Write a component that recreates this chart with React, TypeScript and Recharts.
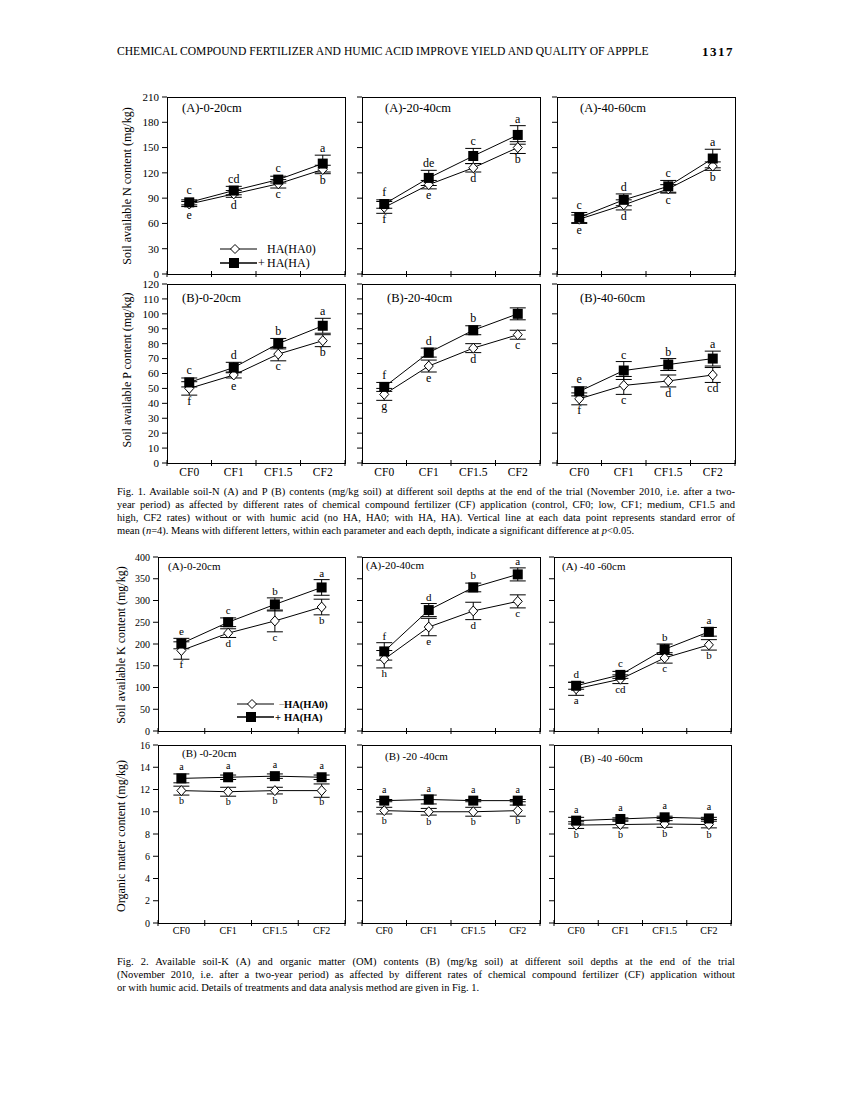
import React from "react";
import { LineChart, Line, XAxis, YAxis, ErrorBar } from "recharts";

const FONT = '"Liberation Serif", "Times New Roman", serif';
const categories = ["CF0", "CF1", "CF1.5", "CF2"];

// Fig. 1 (A) soil available N (mg/kg)
const n020Ha0 = [83, 95, 107, 124];
const n020Ha0Err = [3, 4, 5, 5];
const n020Ha0Sig = ["e", "d", "c", "b"];
const n020Ha = [85, 99, 112, 131];
const n020HaErr = [3, 5, 4, 10];
const n020HaSig = ["c", "cd", "c", "a"];

const n2040Ha0 = [79, 106, 126, 150];
const n2040Ha0Err = [7, 5, 5, 7];
const n2040Ha0Sig = ["f", "e", "d", "b"];
const n2040Ha = [83, 114, 140, 165];
const n2040HaErr = [5, 9, 9, 11];
const n2040HaSig = ["f", "de", "c", "a"];

const n4060Ha0 = [65, 82, 101, 128];
const n4060Ha0Err = [5, 6, 5, 5];
const n4060Ha0Sig = ["e", "d", "c", "b"];
const n4060Ha = [67, 88, 104, 137];
const n4060HaErr = [6, 7, 7, 11];
const n4060HaSig = ["c", "d", "c", "a"];

// Fig. 1 (B) soil available P (mg/kg)
const p020Ha0 = [50, 59, 73, 82];
const p020Ha0Err = [4.5, 2, 4.5, 4];
const p020Ha0Sig = ["f", "e", "c", "b"];
const p020Ha = [54, 64, 80, 92];
const p020HaErr = [3, 3.5, 3.5, 5];
const p020HaSig = ["c", "d", "b", "a"];

const p2040Ha0 = [46, 65, 77, 86];
const p2040Ha0Err = [4, 4, 3, 3];
const p2040Ha0Sig = ["g", "e", "d", "c"];
const p2040Ha = [51, 74, 89, 100];
const p2040HaErr = [3, 3, 3, 4];
const p2040HaSig = ["f", "d", "b", ""];

const p4060Ha0 = [43, 52, 55, 59];
const p4060Ha0Err = [4, 6, 4, 5];
const p4060Ha0Sig = ["f", "c", "d", "cd"];
const p4060Ha = [48, 62, 66, 70];
const p4060HaErr = [3, 6, 4, 5];
const p4060HaSig = ["e", "c", "b", "a"];

// Fig. 2 (A) soil available K (mg/kg)
const k020Ha0 = [185, 225, 253, 285];
const k020Ha0Err = [20, 10, 25, 18];
const k020Ha0Sig = ["f", "d", "c", "b"];
const k020Ha = [201, 250, 291, 330];
const k020HaErr = [12, 10, 15, 18];
const k020HaSig = ["e", "c", "b", "a"];

const k2040Ha0 = [165, 239, 276, 298];
const k2040Ha0Err = [20, 20, 20, 15];
const k2040Ha0Sig = ["h", "e", "d", "c"];
const k2040Ha = [183, 278, 330, 360];
const k2040HaErr = [20, 15, 10, 15];
const k2040HaSig = ["f", "d", "b", "a"];

const k4060Ha0 = [97, 119, 168, 198];
const k4060Ha0Err = [15, 10, 12, 12];
const k4060Ha0Sig = ["a", "cd", "c", "b"];
const k4060Ha = [104, 129, 188, 228];
const k4060HaErr = [8, 8, 12, 10];
const k4060HaSig = ["d", "c", "b", "a"];

// Fig. 2 (B) organic matter (mg/kg)
const om020Ha0 = [11.9, 11.8, 11.9, 11.9];
const om020Ha0Err = [0.4, 0.4, 0.3, 0.6];
const om020Ha0Sig = ["b", "b", "b", "b"];
const om020Ha = [13.0, 13.1, 13.2, 13.1];
const om020HaErr = [0.4, 0.2, 0.2, 0.2];
const om020HaSig = ["a", "a", "a", "a"];

const om2040Ha0 = [10.1, 10.0, 10.0, 10.1];
const om2040Ha0Err = [0.3, 0.3, 0.4, 0.5];
const om2040Ha0Sig = ["b", "b", "b", "b"];
const om2040Ha = [11.0, 11.1, 11.0, 11.0];
const om2040HaErr = [0.1, 0.4, 0.1, 0.1];
const om2040HaSig = ["a", "a", "a", "a"];

const om4060Ha0 = [8.8, 8.85, 8.9, 8.85];
const om4060Ha0Err = [0.3, 0.3, 0.3, 0.3];
const om4060Ha0Sig = ["b", "b", "b", "b"];
const om4060Ha = [9.2, 9.35, 9.5, 9.4];
const om4060HaErr = [0.3, 0.1, 0.1, 0.1];
const om4060HaSig = ["a", "a", "a", "a"];

const range = (max: number, step: number) => {
  const out: number[] = [];
  for (let v = 0; v <= max + 1e-9; v += step) out.push(+v.toFixed(4));
  return out;
};

const YW = 45;
const MT = 10;
const MR = 6;
const XH = 26;

type PanelProps = {
  title: string;
  titleDx: number;
  titleDy: number;
  left: number;
  top: number;
  w: number;
  h: number;
  ymax: number;
  step: number;
  showY: boolean;
  showX: boolean;
  ha0: number[];
  ha0Err: number[];
  ha0Sig: string[];
  ha: number[];
  haErr: number[];
  haSig: string[];
  fs: { y: number; x: number; title: number; sig: number };
};

function Panel(props: PanelProps) {
  const { left, top, w, h, ymax, step, showY, showX, fs } = props;
  const data = categories.map((c, i) => ({
    x: i + 0.5,
    cat: c,
    ha0: props.ha0[i],
    ha0Err: props.ha0Err[i],
    ha0Sig: props.ha0Sig[i],
    ha: props.ha[i],
    haErr: props.haErr[i],
    haSig: props.haSig[i],
  }));
  const ppu = h / ymax;

  const squareDot = (p: any) => {
    const { cx, cy, payload, index } = p;
    const off = Math.max(payload.haErr * ppu, 5) + 3;
    return (
      <g key={`sq${index}`}>
        <rect x={cx - 5} y={cy - 5} width={10} height={10} fill="#000" />
        <text x={cx} y={cy - off} textAnchor="middle" fontSize={fs.sig} fontFamily={FONT} fill="#000">
          {payload.haSig}
        </text>
      </g>
    );
  };

  const diamondDot = (p: any) => {
    const { cx, cy, payload, index } = p;
    const off = Math.max(payload.ha0Err * ppu, 5) + 1 + fs.sig * 0.72;
    return (
      <g key={`dm${index}`}>
        <path
          d={`M${cx},${cy - 5}L${cx + 4.5},${cy}L${cx},${cy + 5}L${cx - 4.5},${cy}Z`}
          fill="#fff"
          stroke="#000"
          strokeWidth={1}
        />
        <text x={cx} y={cy + off} textAnchor="middle" fontSize={fs.sig} fontFamily={FONT} fill="#000">
          {payload.ha0Sig}
        </text>
      </g>
    );
  };

  const xTick = (p: any) => {
    const { x, y, payload } = p;
    const v = payload.value;
    if (Number.isInteger(v)) {
      return <line x1={x} x2={x} y1={y - 3} y2={y + 3} stroke="#000" strokeWidth={1} />;
    }
    if (!showX) return <g />;
    return (
      <text x={x} y={y + fs.x + 1} textAnchor="middle" fontSize={fs.x} fontFamily={FONT} fill="#000">
        {categories[Math.round(v - 0.5)]}
      </text>
    );
  };

  return (
    <>
      <div style={{ position: "absolute", left: left - YW, top: top - MT }}>
        <LineChart
          width={w + YW + MR}
          height={h + MT + XH}
          data={data}
          margin={{ top: MT, right: MR, left: 0, bottom: 0 }}
        >
          <XAxis
            type="number"
            dataKey="x"
            domain={[0, 4]}
            ticks={[0, 0.5, 1, 1.5, 2, 2.5, 3, 3.5, 4]}
            interval={0}
            height={XH}
            axisLine={false}
            tickLine={false}
            tickSize={0}
            tickMargin={0}
            tick={xTick}
          />
          <YAxis
            type="number"
            domain={[0, ymax]}
            ticks={range(ymax, step)}
            interval={0}
            width={YW}
            axisLine={false}
            tickSize={5}
            tickMargin={3}
            tickLine={{ stroke: "#000" }}
            tick={{ fontSize: fs.y, fontFamily: FONT, fill: "#000" }}
            tickFormatter={(v: number) => (showY ? String(v) : "")}
          />
          <Line
            dataKey="ha0"
            stroke="#000"
            strokeWidth={1}
            dot={diamondDot}
            activeDot={false}
            isAnimationActive={false}
          >
            <ErrorBar dataKey="ha0Err" width={8} stroke="#000" strokeWidth={1} direction="y" />
          </Line>
          <Line
            dataKey="ha"
            stroke="#000"
            strokeWidth={1}
            dot={squareDot}
            activeDot={false}
            isAnimationActive={false}
          >
            <ErrorBar dataKey="haErr" width={8} stroke="#000" strokeWidth={1} direction="y" />
          </Line>
        </LineChart>
      </div>
      <div
        style={{
          position: "absolute",
          left,
          top,
          width: w + 1,
          height: h + 1,
          border: "1px solid #000",
          boxSizing: "border-box",
          pointerEvents: "none",
        }}
      />
      <div
        style={{
          position: "absolute",
          left: left + props.titleDx,
          top: top + props.titleDy,
          fontFamily: FONT,
          fontSize: fs.title,
          lineHeight: 1,
          whiteSpace: "nowrap",
        }}
      >
        {props.title}
      </div>
    </>
  );
}

const Legend = ({ left, top, fs, bold, gap, minus }: any) => {
  const text = { fontFamily: FONT, fontSize: fs, fontWeight: bold ? "bold" : "normal" } as const;
  return (
    <svg style={{ position: "absolute", left, top }} width={130} height={gap + 14}>
      <line x1={0} x2={37} y1={6} y2={6} stroke="#000" />
      <path d="M15,1.5L19.5,6L15,10.5L10.5,6Z" fill="#fff" stroke="#000" />
      {minus && (
        <text x={42} y={10} {...text} fill="#999">
          −
        </text>
      )}
      <text x={47} y={10} {...text}>
        HA(HA0)
      </text>
      <line x1={0} x2={37} y1={6 + gap} y2={6 + gap} stroke="#000" strokeWidth={1.5} />
      <rect x={9} y={1 + gap} width={10} height={10} fill="#000" />
      <text x={38} y={10 + gap} {...text}>
        +
      </text>
      <text x={47} y={10 + gap} {...text}>
        HA(HA)
      </text>
    </svg>
  );
};

const RotLabel = ({ x, y, text, fs, bold }: any) => (
  <div
    style={{
      position: "absolute",
      left: x,
      top: y,
      transform: "translate(-50%, -50%) rotate(-90deg)",
      fontFamily: FONT,
      fontSize: fs,
      fontWeight: bold ? "bold" : "normal",
      whiteSpace: "nowrap",
      lineHeight: 1,
    }}
  >
    {text}
  </div>
);

const CapLine = ({ top, last, children }: any) => (
  <div
    style={{
      position: "absolute",
      left: 117,
      top,
      width: 618,
      fontFamily: FONT,
      fontSize: 10.5,
      lineHeight: 1,
      whiteSpace: "nowrap",
      textAlign: "justify",
      textAlignLast: last ? "left" : "justify",
    }}
  >
    {children}
  </div>
);

export default function App() {
  const f1 = { y: 11, x: 11.5, title: 12.5, sig: 12 };
  const f2 = { y: 10, x: 10, title: 11, sig: 11 };
  const f2b = { y: 10, x: 10, title: 11, sig: 10 };
  const c1 = [
    [167, 178],
    [362, 178],
    [557, 178],
  ];
  const c2 = [
    [158, 187],
    [362, 178],
    [554, 177],
  ];
  return (
    <div style={{ position: "absolute", left: 0, top: 0, width: 850, height: 1100, background: "#fff" }}>
      <div
        style={{
          position: "absolute",
          left: 117,
          top: 46,
          fontFamily: FONT,
          fontSize: 11.6,
          lineHeight: 1,
          whiteSpace: "nowrap",
        }}
      >
        CHEMICAL COMPOUND FERTILIZER AND HUMIC ACID IMPROVE YIELD AND QUALITY OF APPPLE
      </div>
      <div
        style={{
          position: "absolute",
          left: 702,
          top: 45,
          fontFamily: FONT,
          fontSize: 13,
          fontWeight: "bold",
          letterSpacing: 1.5,
          lineHeight: 1,
        }}
      >
        1317
      </div>

      {/* Fig. 1 */}
      <RotLabel x={127} y={186} text="Soil available N content (mg/kg)" fs={12} />
      <RotLabel x={127} y={370} text="Soil available P content (mg/kg)" fs={12} />

      <Panel title="(A)-0-20cm" titleDx={15} titleDy={5} left={c1[0][0]} top={97} w={c1[0][1]} h={177}
        ymax={210} step={30} showY showX={false}
        ha0={n020Ha0} ha0Err={n020Ha0Err} ha0Sig={n020Ha0Sig} ha={n020Ha} haErr={n020HaErr} haSig={n020HaSig} fs={f1} />
      <Panel title="(A)-20-40cm" titleDx={23} titleDy={5} left={c1[1][0]} top={97} w={c1[1][1]} h={177}
        ymax={210} step={30} showY={false} showX={false}
        ha0={n2040Ha0} ha0Err={n2040Ha0Err} ha0Sig={n2040Ha0Sig} ha={n2040Ha} haErr={n2040HaErr} haSig={n2040HaSig} fs={f1} />
      <Panel title="(A)-40-60cm" titleDx={23} titleDy={5} left={c1[2][0]} top={97} w={c1[2][1]} h={177}
        ymax={210} step={30} showY={false} showX={false}
        ha0={n4060Ha0} ha0Err={n4060Ha0Err} ha0Sig={n4060Ha0Sig} ha={n4060Ha} haErr={n4060HaErr} haSig={n4060HaSig} fs={f1} />

      <Panel title="(B)-0-20cm" titleDx={15} titleDy={8} left={c1[0][0]} top={284} w={c1[0][1]} h={179}
        ymax={120} step={10} showY showX
        ha0={p020Ha0} ha0Err={p020Ha0Err} ha0Sig={p020Ha0Sig} ha={p020Ha} haErr={p020HaErr} haSig={p020HaSig} fs={f1} />
      <Panel title="(B)-20-40cm" titleDx={25} titleDy={8} left={c1[1][0]} top={284} w={c1[1][1]} h={179}
        ymax={120} step={10} showY={false} showX
        ha0={p2040Ha0} ha0Err={p2040Ha0Err} ha0Sig={p2040Ha0Sig} ha={p2040Ha} haErr={p2040HaErr} haSig={p2040HaSig} fs={f1} />
      <Panel title="(B)-40-60cm" titleDx={23} titleDy={8} left={c1[2][0]} top={284} w={c1[2][1]} h={179}
        ymax={120} step={20} showY={false} showX
        ha0={p4060Ha0} ha0Err={p4060Ha0Err} ha0Sig={p4060Ha0Sig} ha={p4060Ha} haErr={p4060HaErr} haSig={p4060HaSig} fs={f1} />

      <Legend left={220} top={243} fs={12} gap={14} />

      <CapLine top={487}>
        Fig. 1. Available soil-N (A) and P (B) contents (mg/kg soil) at different soil depths at the end of the trial (November 2010, i.e. after a two-
      </CapLine>
      <CapLine top={500}>
        year period) as affected by different rates of chemical compound fertilizer (CF) application (control, CF0; low, CF1; medium, CF1.5 and
      </CapLine>
      <CapLine top={513}>
        high, CF2 rates) without or with humic acid (no HA, HA0; with HA, HA). Vertical line at each data point represents standard error of
      </CapLine>
      <CapLine top={526} last>
        mean (<i>n</i>=4). Means with different letters, within each parameter and each depth, indicate a significant difference at <i>p</i>&lt;0.05.
      </CapLine>

      {/* Fig. 2 */}
      <RotLabel x={121} y={645} text="Soil available K content (mg/kg)" fs={12} />
      <RotLabel x={121} y={836} text="Organic matter content (mg/kg)" fs={12} />

      <Panel title="(A)-0-20cm" titleDx={10} titleDy={4} left={c2[0][0]} top={557} w={c2[0][1]} h={174}
        ymax={400} step={50} showY showX={false}
        ha0={k020Ha0} ha0Err={k020Ha0Err} ha0Sig={k020Ha0Sig} ha={k020Ha} haErr={k020HaErr} haSig={k020HaSig} fs={f2} />
      <Panel title="(A)-20-40cm" titleDx={4} titleDy={3} left={c2[1][0]} top={557} w={c2[1][1]} h={174}
        ymax={400} step={50} showY={false} showX={false}
        ha0={k2040Ha0} ha0Err={k2040Ha0Err} ha0Sig={k2040Ha0Sig} ha={k2040Ha} haErr={k2040HaErr} haSig={k2040HaSig} fs={f2} />
      <Panel title="(A) -40 -60cm" titleDx={8} titleDy={4} left={c2[2][0]} top={557} w={c2[2][1]} h={174}
        ymax={400} step={50} showY={false} showX={false}
        ha0={k4060Ha0} ha0Err={k4060Ha0Err} ha0Sig={k4060Ha0Sig} ha={k4060Ha} haErr={k4060HaErr} haSig={k4060HaSig} fs={f2} />

      <Panel title="(B) -0-20cm" titleDx={24} titleDy={3} left={c2[0][0]} top={745} w={c2[0][1]} h={178}
        ymax={16} step={2} showY showX
        ha0={om020Ha0} ha0Err={om020Ha0Err} ha0Sig={om020Ha0Sig} ha={om020Ha} haErr={om020HaErr} haSig={om020HaSig} fs={f2b} />
      <Panel title="(B) -20 -40cm" titleDx={23} titleDy={6} left={c2[1][0]} top={745} w={c2[1][1]} h={178}
        ymax={16} step={2} showY={false} showX
        ha0={om2040Ha0} ha0Err={om2040Ha0Err} ha0Sig={om2040Ha0Sig} ha={om2040Ha} haErr={om2040HaErr} haSig={om2040HaSig} fs={f2b} />
      <Panel title="(B) -40 -60cm" titleDx={26} titleDy={8} left={c2[2][0]} top={745} w={c2[2][1]} h={178}
        ymax={16} step={2} showY={false} showX
        ha0={om4060Ha0} ha0Err={om4060Ha0Err} ha0Sig={om4060Ha0Sig} ha={om4060Ha} haErr={om4060HaErr} haSig={om4060HaSig} fs={f2b} />

      <Legend left={237} top={698} fs={10.5} gap={13} bold minus />

      <CapLine top={957}>
        Fig. 2. Available soil-K (A) and organic matter (OM) contents (B) (mg/kg soil) at different soil depths at the end of the trial
      </CapLine>
      <CapLine top={970}>
        (November 2010, i.e. after a two-year period) as affected by different rates of chemical compound fertilizer (CF) application without
      </CapLine>
      <CapLine top={983} last>
        or with humic acid. Details of treatments and data analysis method are given in Fig. 1.
      </CapLine>
    </div>
  );
}
